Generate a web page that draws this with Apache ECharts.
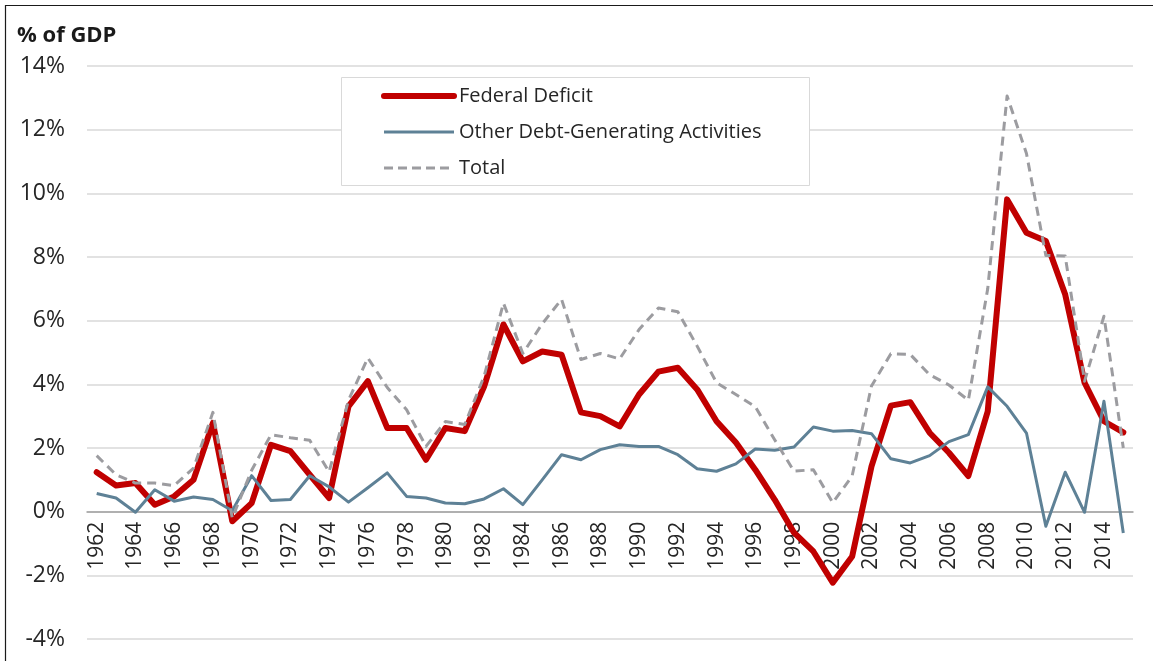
<!DOCTYPE html>
<html>
<head>
<meta charset="utf-8">
<style>
html,body{margin:0;padding:0;background:#fff;}
#chart{width:1153px;height:661px;}
</style>
<script src="https://cdn.jsdelivr.net/npm/echarts@6/dist/echarts.min.js"></script>
</head>
<body>
<div id="chart"></div>
<script>
const years = ["1962","1963","1964","1965","1966","1967","1968","1969","1970","1971","1972","1973",
"1974","1975","1976","1977","1978","1979","1980","1981","1982","1983","1984","1985",
"1986","1987","1988","1989","1990","1991","1992","1993","1994","1995","1996","1997",
"1998","1999","2000","2001","2002","2003","2004","2005","2006","2007","2008","2009",
"2010","2011","2012","2013","2014","2015"];

const federalDeficit = [1.24,0.82,0.9,0.22,0.48,1.0,2.79,-0.3,0.27,2.1,1.9,1.16,
0.43,3.31,4.1,2.63,2.63,1.63,2.63,2.53,3.93,5.88,4.72,5.03,
4.93,3.12,3.0,2.68,3.68,4.4,4.52,3.84,2.84,2.17,1.32,0.38,
-0.66,-1.25,-2.23,-1.41,1.42,3.33,3.44,2.48,1.85,1.12,3.15,9.81,
8.76,8.5,6.82,4.05,2.84,2.49];

const otherDebt = [0.57,0.43,-0.02,0.69,0.33,0.46,0.38,0.03,1.13,0.35,0.38,1.13,
0.78,0.3,0.75,1.22,0.48,0.43,0.27,0.25,0.4,0.72,0.22,1.0,
1.79,1.63,1.95,2.1,2.05,2.05,1.79,1.35,1.27,1.5,1.97,1.93,
2.03,2.66,2.53,2.55,2.45,1.66,1.53,1.76,2.2,2.42,3.92,3.31,
2.47,-0.46,1.24,-0.02,3.47,-0.67];

const total = [1.76,1.16,0.9,0.9,0.82,1.37,3.12,-0.2,1.3,2.42,2.32,2.24,
1.25,3.5,4.83,3.9,3.2,2.05,2.83,2.74,4.25,6.55,4.97,5.9,
6.67,4.78,4.97,4.8,5.72,6.4,6.28,5.2,4.05,3.68,3.3,2.26,
1.27,1.32,0.28,1.12,3.95,4.96,4.94,4.3,3.98,3.5,7.0,13.06,
11.25,8.05,8.03,4.1,6.14,2.0];

const yTicks = {min:-4, max:14, interval:2};
const seriesNames = ["Federal Deficit","Other Debt-Generating Activities","Total"];

const FONT = "'Open Sans', 'Liberation Sans', sans-serif";
const chart = echarts.init(document.getElementById('chart'), null, {renderer:'canvas'});

const gridTop = 66, gridBottom = 22, H = 661;
const plotH = H - gridTop - gridBottom;
const zeroOffset = -(plotH * (0 - yTicks.min) / (yTicks.max - yTicks.min));

chart.setOption({
  backgroundColor:'#ffffff',
  animation:false,
  graphic:[
    {type:'rect', shape:{x:5.5,y:5.5,width:1300,height:800}, style:{fill:null, stroke:'#1a1a1a', lineWidth:1.2}, z:100},
    {type:'rect', shape:{x:341.5,y:77.5,width:468,height:108}, style:{fill:'#ffffff', stroke:'#D9D9D9', lineWidth:1}, z:5},
    {type:'text', left:17, top:25, style:{text:'% of GDP', font:"bold 22px 'Open Sans', sans-serif", fill:'#1a1a1a'}, z:10}
  ],
  grid:{left:87, right:20, top:gridTop, bottom:gridBottom, containLabel:false, outerBoundsMode:'none'},
  legend:{
    orient:'vertical',
    left:376, top:81,
    itemWidth:70, itemHeight:20, itemGap:16,
    textStyle:{fontFamily:FONT, fontSize:20, color:'#262626', lineHeight:20},
    itemStyle:{opacity:0},
    data:[
      {name:seriesNames[0], lineStyle:{width:6, color:'#C00000', cap:'round'}},
      {name:seriesNames[1], lineStyle:{width:3, color:'#5E8196'}},
      {name:seriesNames[2], lineStyle:{width:3, color:'#9C9CA0', type:[9,5]}}
    ],
    z:20
  },
  xAxis:{
    type:'category',
    data:years,
    boundaryGap:true,
    offset:zeroOffset,
    axisLine:{show:true, onZero:false, lineStyle:{color:'#A0A0A0', width:1.5}},
    axisTick:{show:false},
    axisLabel:{interval:1, rotate:90, margin:10, fontFamily:FONT, fontSize:21, color:'#262626'},
    splitLine:{show:false}
  },
  yAxis:{
    type:'value',
    min:yTicks.min, max:yTicks.max, interval:yTicks.interval,
    axisLine:{show:false},
    axisTick:{show:false},
    axisLabel:{formatter:'{value}%', margin:22, fontFamily:FONT, fontSize:23, color:'#262626'},
    splitLine:{lineStyle:{color:'#D9D9D9', width:1.5}}
  },
  series:[
    {name:seriesNames[0], type:'line', data:federalDeficit, symbol:'none', z:3,
     lineStyle:{color:'#C00000', width:6, cap:'round', join:'round'}, itemStyle:{color:'#C00000'}},
    {name:seriesNames[1], type:'line', data:otherDebt, symbol:'none', z:4,
     lineStyle:{color:'#5E8196', width:3, join:'round'}, itemStyle:{color:'#5E8196'}},
    {name:seriesNames[2], type:'line', data:total, symbol:'none', z:5,
     lineStyle:{color:'#9C9CA0', width:3, type:[9,6], join:'round'}, itemStyle:{color:'#9C9CA0'}}
  ]
});
</script>
</body>
</html>
